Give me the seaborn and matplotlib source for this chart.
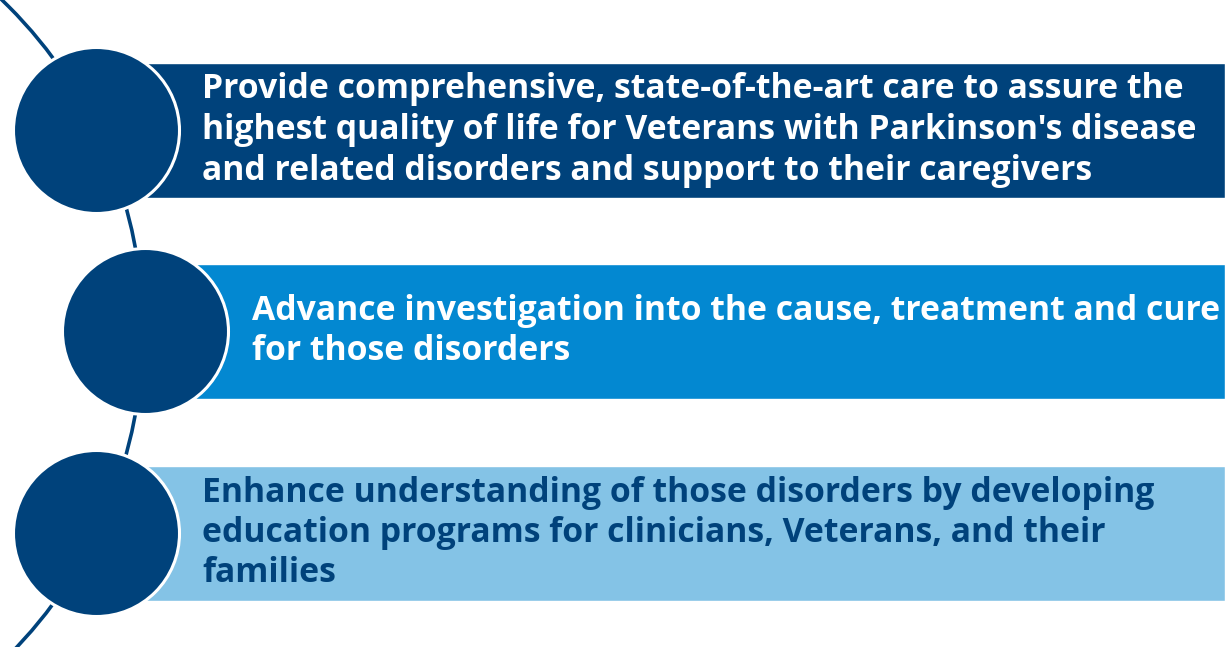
import pandas as pd
import seaborn as sns
import matplotlib.pyplot as plt
from matplotlib.patches import Circle

# three tiers of the mission statement
tier_lines = [
    ["Provide comprehensive, state-of-the-art care to assure the",
     "highest quality of life for Veterans with Parkinson's disease",
     "and related disorders and support to their caregivers"],
    ["Advance investigation into the cause, treatment and cure",
     "for those disorders"],
    ["Enhance understanding of those disorders by developing",
     "education programs for clinicians, Veterans, and their",
     "families"],
]
bar_colors = ["#00427B", "#0388D1", "#84C3E6"]
text_colors = ["white", "white", "#00427B"]
node_color = "#00427B"

# layout (pixel units, y grows downward)
centers_y = [130, 331, 533]
node_x = [96, 145, 96]
bar_left = [145, 195, 145]
bar_h = 135
node_r = 83
W, H = 1225, 647

sns.set_theme(style="white")
plt.rcParams['font.family'] = ['Open Sans', 'DejaVu Sans']

fig = plt.figure(figsize=(W / 100, H / 100), dpi=100)
ax = fig.add_axes([0, 0, 1, 1])

# big guiding arc behind the nodes
ax.add_patch(Circle((-316, 331), 459, fill=False, ec=node_color, lw=2.6, zorder=1))

ax.barh(centers_y, [W - l for l in bar_left], left=bar_left, height=bar_h,
        color=bar_colors, zorder=2)

nodes = pd.DataFrame({"x": node_x, "y": centers_y})
diam_pt = 2 * node_r * 0.72
sns.scatterplot(data=nodes, x="x", y="y", s=diam_pt ** 2, color=node_color,
                edgecolor="white", linewidth=2.2, zorder=3, ax=ax, legend=False)
ax.set_xlim(0, W)
ax.set_ylim(H, 0)
ax.axis("off")

line_gap = 40.5
for i, lines in enumerate(tier_lines):
    n = len(lines)
    for j, line in enumerate(lines):
        y = centers_y[i] + (j - (n - 1) / 2) * line_gap
        ax.text(bar_left[i] + 57, y, line, color=text_colors[i], fontsize=24.3,
                fontweight="bold", va="center", ha="left", zorder=4)

fig.savefig("out.png", dpi=100)
